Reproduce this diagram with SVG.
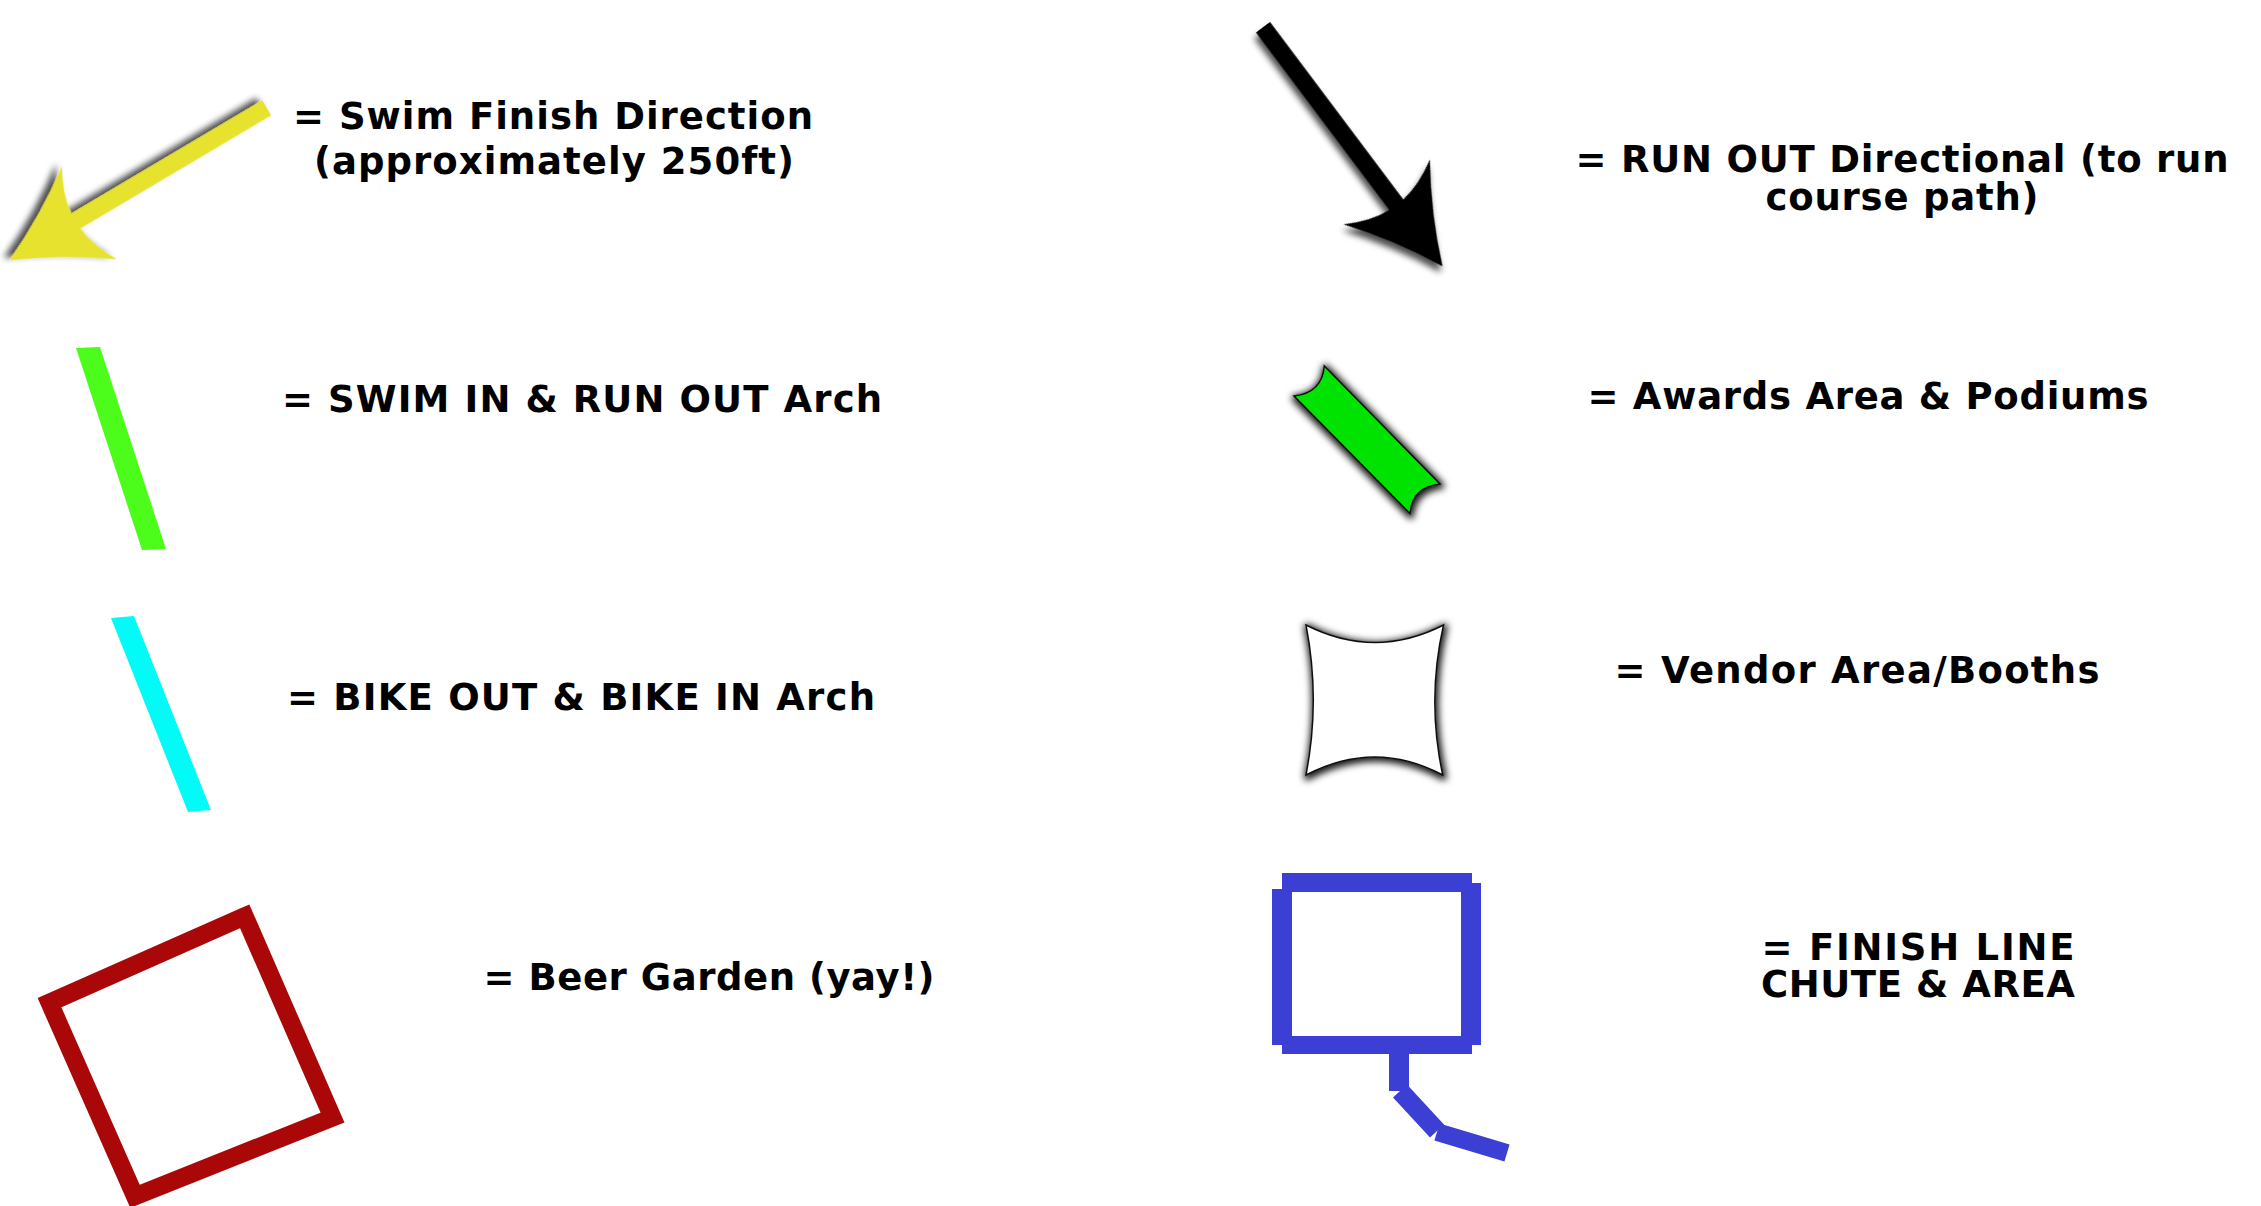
<svg xmlns="http://www.w3.org/2000/svg" width="2261" height="1206" viewBox="0 0 2261 1206">
  <defs>
    <style>
      .lbl { font-family: "DejaVu Sans", Verdana, sans-serif; font-weight: bold; font-size: 37px; fill: #000; text-anchor: middle; }
      .bar { stroke-linecap: butt; fill: none; }
    </style>
    <filter id="dropShadow" x="-20%" y="-20%" width="140%" height="140%">
      <feDropShadow dx="4" dy="5" stdDeviation="3" flood-color="#000" flood-opacity="0.7"/>
    </filter>
    <filter id="edgeGlow" x="-30%" y="-30%" width="160%" height="160%">
      <feMorphology in="SourceAlpha" operator="dilate" radius="2" result="d"/>
      <feGaussianBlur in="d" stdDeviation="3.5" result="b"/>
      <feOffset in="b" dx="1" dy="2" result="o"/>
      <feFlood flood-color="#000" flood-opacity="0.9"/>
      <feComposite in2="o" operator="in" result="s"/>
      <feMerge>
        <feMergeNode in="s"/>
        <feMergeNode in="SourceGraphic"/>
      </feMerge>
    </filter>
    <path id="arrowShape" d="M0,-8.7 L222,-8.7 Q220,-30 206,-54 Q250,-22 299,0 Q250,22 206,54 Q220,30 222,8.7 L0,8.7 Z"/>
  </defs>

  <rect x="0" y="0" width="2261" height="1206" fill="#ffffff"/>

  <g id="swim-finish-direction">
    <use href="#arrowShape" fill="#e6e22d" filter="url(#dropShadow)" transform="translate(266.7,107.8) rotate(149.34)"/>
    <text class="lbl" x="553" y="129" textLength="520" lengthAdjust="spacing">= Swim Finish Direction</text>
    <text class="lbl" x="554" y="174" textLength="480" lengthAdjust="spacing">(approximately 250ft)</text>
  </g>

  <g id="run-out-directional">
    <use href="#arrowShape" fill="#000000" filter="url(#dropShadow)" transform="translate(1263,27.2) rotate(53.1)"/>
    <text class="lbl" x="1902" y="172" textLength="653" lengthAdjust="spacing">= RUN OUT Directional (to run</text>
    <text class="lbl" x="1902" y="210" textLength="273" lengthAdjust="spacing">course path)</text>
  </g>

  <g id="swim-in-run-out-arch">
    <polygon points="76,348 100,347 166,549 142,550" fill="#4cfc1a"/>
    <text class="lbl" x="582" y="412" textLength="600" lengthAdjust="spacing">= SWIM IN &amp; RUN OUT Arch</text>
  </g>

  <g id="bike-out-bike-in-arch">
    <polygon points="111,618 134,616 211,810 188,812" fill="#03fbf7"/>
    <text class="lbl" x="581" y="710" textLength="588" lengthAdjust="spacing">= BIKE OUT &amp; BIKE IN Arch</text>
  </g>

  <g id="beer-garden">
    <polygon points="244.7,916.3 49.5,1002.7 135,1196.3 332.5,1117.5" fill="none" stroke="#aa0808" stroke-width="18" stroke-linejoin="miter"/>
    <text class="lbl" x="709" y="990" textLength="451" lengthAdjust="spacing">= Beer Garden (yay!)</text>
  </g>

  <g id="awards-area">
    <path d="M1324.3,366 Q1322,393 1294,396 L1410,513.5 Q1412,487 1440,484 Z" fill="#00e300" stroke="#111" stroke-width="1.5" filter="url(#edgeGlow)"/>
    <text class="lbl" x="1868" y="409" textLength="561" lengthAdjust="spacing">= Awards Area &amp; Podiums</text>
  </g>

  <g id="vendor-area">
    <path d="M1306,625 Q1375,660 1443.5,625 Q1426.5,700 1442.7,775 Q1375,739 1306,775 Q1320.6,700 1306,625 Z" fill="#ffffff" stroke="#111" stroke-width="1.5" filter="url(#edgeGlow)"/>
    <text class="lbl" x="1857" y="683" textLength="485" lengthAdjust="spacing">= Vendor Area/Booths</text>
  </g>

  <g id="finish-line-chute" fill="#3c3fd3">
    <rect x="1282" y="873" width="190" height="19"/>
    <rect x="1272" y="889" width="20" height="156"/>
    <rect x="1461" y="883" width="20" height="162"/>
    <rect x="1282" y="1036" width="190" height="18"/>
    <rect x="1389" y="1054" width="20" height="37"/>
    <line class="bar" x1="1400" y1="1091" x2="1437" y2="1131" stroke="#3c3fd3" stroke-width="19"/>
    <line class="bar" x1="1437" y1="1132" x2="1507" y2="1153" stroke="#3c3fd3" stroke-width="18"/>
    <text class="lbl" x="1918" y="960" textLength="313" lengthAdjust="spacing">= FINISH LINE</text>
    <text class="lbl" x="1918" y="997" textLength="314" lengthAdjust="spacing">CHUTE &amp; AREA</text>
  </g>
</svg>
